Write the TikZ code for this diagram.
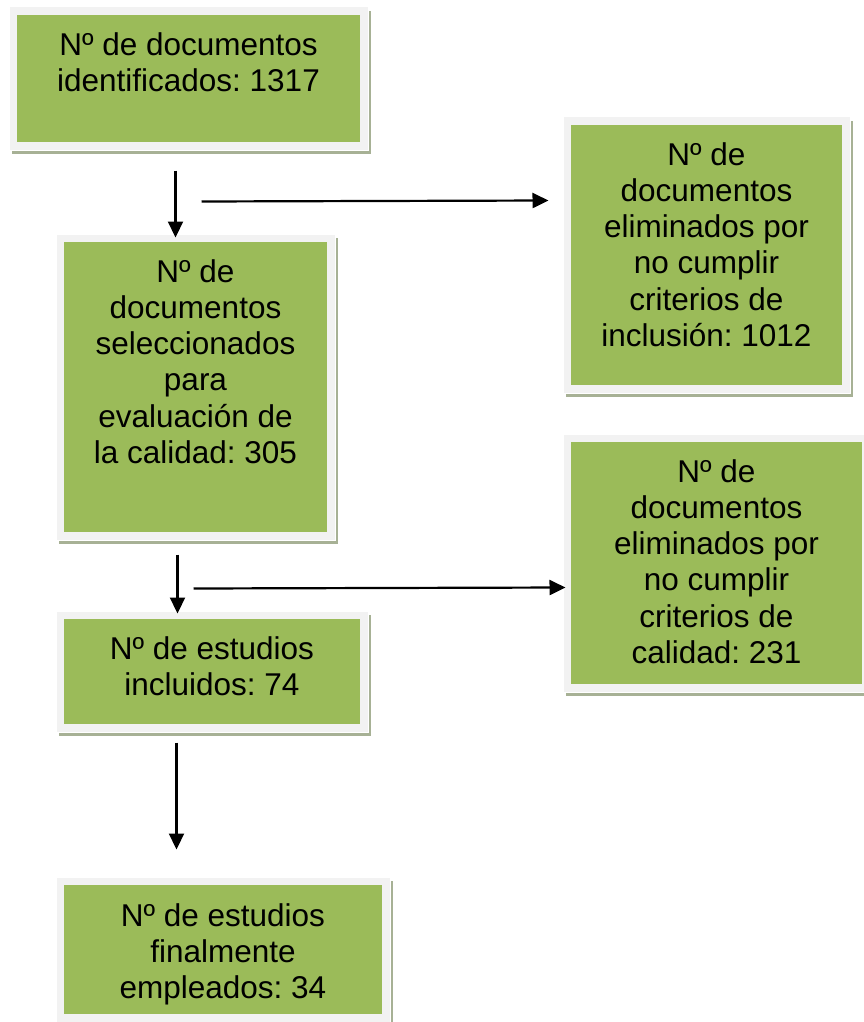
\documentclass[tikz,border=0pt]{standalone}
\usepackage{fontspec}
\setmainfont{Liberation Sans}
\usetikzlibrary{arrows.meta,calc,shadows}
\definecolor{boxgreen}{HTML}{9BBB59}
\definecolor{framegray}{HTML}{F2F2F2}
\definecolor{shadowcol}{HTML}{A7B195}
\frenchspacing
\tikzset{
  framebox/.style={rectangle, inner sep=0pt, fill=framegray, draw=white, line width=1pt,
    drop shadow={shadow xshift=3pt, shadow yshift=-4pt, fill=shadowcol, opacity=1},
    path picture={\fill[boxgreen] ([shift={(8pt,8pt)}]path picture bounding box.south west) rectangle ([shift={(-8pt,-8pt)}]path picture bounding box.north east);}},
  boxtext/.style={inner sep=0pt, anchor=north, align=center, font=\fontsize{31.5}{36.3}\selectfont\frenchspacing},
  arr/.style={line width=2.2pt, -{Triangle[length=16pt,width=15pt]}}
}
\begin{document}
\begin{tikzpicture}[x=1pt,y=-1pt]
\useasboundingbox (0,0) rectangle (863,1022);
\node[framebox, minimum width=359pt, minimum height=143pt] (b1) at (188.5,78.5) {};
\node[framebox, minimum width=287pt, minimum height=276pt] (b2) at (706.5,255) {};
\node[framebox, minimum width=279pt, minimum height=306pt] (b3) at (195.5,387) {};
\node[framebox, minimum width=307pt, minimum height=258pt] (b4) at (716.5,563) {};
\node[framebox, minimum width=312pt, minimum height=121pt] (b5) at (212,671.5) {};
\node[framebox, minimum width=334pt, minimum height=145pt] (b6) at (223,949.5) {};

\node[boxtext] (t1) at ($(b1.north)+(0,25.5)$) {Nº de documentos\\identificados: 1317};
\node[boxtext] (t2) at ($(b2.north)+(0,25.5)$) {Nº de\\documentos\\eliminados por\\no cumplir\\criterios de\\inclusión: 1012};
\node[boxtext] (t3) at ($(b3.north)+(0,25.5)$) {Nº de\\documentos\\seleccionados\\para\\evaluación de\\la calidad: 305};
\node[boxtext] (t4) at ($(b4.north)+(0,25.5)$) {Nº de\\documentos\\eliminados por\\no cumplir\\criterios de\\calidad: 231};
\node[boxtext] (t5) at ($(b5.north)+(0,25.5)$) {Nº de estudios\\incluidos: 74};
\node[boxtext] (t6) at ($(b6.north)+(0,26.5)$) {Nº de estudios\\finalmente\\empleados: 34};

\draw[arr] ($(b1.south west)+(167,20)$) -- ($(b3.north west)+(120,4)$);
\draw[arr] ($(b1.south west)+(193,51)$) -- ($(b2.north west)+(-14,84)$);
\draw[arr] ($(b3.south west)+(122,14)$) -- ($(b5.north west)+(122,3)$);
\draw[arr] ($(b3.south west)+(138,48)$) -- ($(b4.north west)+(3,154)$);
\draw[arr] ($(b5.south west)+(121,10)$) -- ($(b6.north west)+(121,-27)$);
\end{tikzpicture}
\end{document}
